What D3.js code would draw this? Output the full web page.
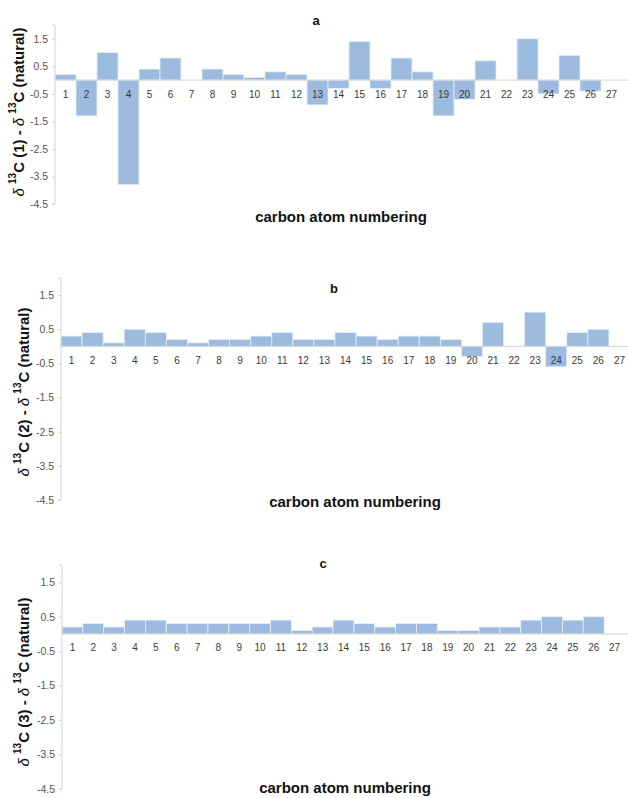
<!DOCTYPE html>
<html>
<head>
<meta charset="utf-8">
<script src="https://cdn.jsdelivr.net/npm/d3@7"></script>
<style>
  html, body { margin: 0; padding: 0; background: #fff; }
  svg { display: block; font-family: "Liberation Sans", Arial, sans-serif; }
</style>
</head>
<body>
<svg id="chart" width="628" height="798"></svg>
<script>
// ---- data ----
const carbons = ["1","2","3","4","5","6","7","8","9","10","11","12","13","14","15","16","17","18","19","20","21","22","23","24","25","26","27"];
const seriesA = [0.2,-1.3,1.0,-3.8,0.4,0.8,0,0.4,0.2,0.1,0.3,0.2,-0.9,-0.3,1.4,-0.3,0.8,0.3,-1.3,-0.7,0.7,0,1.5,-0.5,0.9,-0.4,0];
const seriesB = [0.3,0.4,0.1,0.5,0.4,0.2,0.1,0.2,0.2,0.3,0.4,0.2,0.2,0.4,0.3,0.2,0.3,0.3,0.2,-0.3,0.7,0,1.0,-0.6,0.4,0.5,0];
const seriesC = [0.2,0.3,0.2,0.4,0.4,0.3,0.3,0.3,0.3,0.3,0.4,0.1,0.2,0.4,0.3,0.2,0.3,0.3,0.1,0.1,0.2,0.2,0.4,0.5,0.4,0.5,0];
const yTicks = [1.5, 0.5, -0.5, -1.5, -2.5, -3.5, -4.5];
const panelNames = ["a", "b", "c"];
const sampleLabels = ["1", "2", "3"];
const xTitle = "carbon atom numbering";

// ---- layout ----
const layouts = [
  {left: 55, right: 622, top: 25, bottom: 204, tx: 316, ty: 20, ytx: 18, yty: 112, xtx: 341, xty: 216},
  {left: 61, right: 630, top: 278, bottom: 500, tx: 334, ty: 288, ytx: 23, yty: 392, xtx: 355, xty: 501},
  {left: 62, right: 625, top: 565, bottom: 789, tx: 323, ty: 563, ytx: 23, yty: 682, xtx: 345, xty: 787}
];
const allSeries = [seriesA, seriesB, seriesC];

const svg = d3.select("#chart");
const barFill = "#9dbbdf";
const axisColor = "#d3d3d3";

allSeries.forEach((vals, i) => {
  const L = layouts[i];
  const g = svg.append("g");
  const x = d3.scaleBand().domain(carbons).range([L.left, L.right]).padding(0);
  const y = d3.scaleLinear().domain([-4.5, 2.0]).range([L.bottom, L.top]);
  const data = carbons.map((c, k) => ({c, v: vals[k]}));

  // bars
  g.selectAll("rect.bar").data(data.filter(d => d.v !== 0)).join("rect")
    .attr("class", "bar")
    .attr("x", d => x(d.c))
    .attr("width", x.bandwidth())
    .attr("y", d => y(Math.max(0, d.v)))
    .attr("height", d => Math.abs(y(d.v) - y(0)))
    .attr("fill", barFill)
    .attr("stroke", "#e6edf6")
    .attr("stroke-width", 0.8);

  // zero line
  g.append("line")
    .attr("x1", L.left).attr("x2", 628)
    .attr("y1", y(0)).attr("y2", y(0))
    .attr("stroke", axisColor).attr("stroke-width", 1);

  // y axis
  const yAxis = d3.axisLeft(y).tickValues(yTicks).tickSize(3).tickPadding(4)
    .tickFormat(d3.format(".1f"));
  const ya = g.append("g").attr("transform", `translate(${L.left},0)`).call(yAxis);
  ya.select(".domain").attr("stroke", axisColor).attr("d", `M-3,${L.top}H0V${L.bottom}H-3`);
  ya.selectAll(".tick line").attr("stroke", axisColor);
  ya.selectAll(".tick text").attr("fill", "#555").style("font-size", "10.5px")
    .text(d => d3.format(".1f")(d).replace("\u2212", "-"));

  // x category labels
  g.selectAll("text.xl").data(carbons).join("text")
    .attr("class", "xl")
    .attr("x", d => x(d) + x.bandwidth() / 2)
    .attr("y", y(0) + 14)
    .attr("text-anchor", "middle")
    .attr("dominant-baseline", "central")
    .attr("fill", "#3a3a3a")
    .style("font-size", "10px")
    .text(d => d);

  // panel title
  g.append("text")
    .attr("x", L.tx).attr("y", L.ty)
    .attr("text-anchor", "middle").attr("dominant-baseline", "central")
    .style("font-size", "13px").style("font-weight", "bold").attr("fill", "#111")
    .text(panelNames[i]);

  // x title
  g.append("text")
    .attr("x", L.xtx).attr("y", L.xty)
    .attr("text-anchor", "middle").attr("dominant-baseline", "central")
    .style("font-size", "15px").style("font-weight", "bold").attr("fill", "#111")
    .text(xTitle);

  // y title
  const yt = g.append("text")
    .attr("transform", `translate(${L.ytx},${L.yty}) rotate(-90)`)
    .attr("text-anchor", "middle").attr("dominant-baseline", "central")
    .style("font-size", "15px").style("font-weight", "bold").attr("fill", "#111");
  yt.append("tspan").style("font-style", "italic").style("font-weight", "normal").text("δ ");
  yt.append("tspan").attr("baseline-shift", "super").style("font-size", "10px").text("13");
  yt.append("tspan").text(`C (${sampleLabels[i]}) - `);
  yt.append("tspan").style("font-style", "italic").style("font-weight", "normal").text("δ ");
  yt.append("tspan").attr("baseline-shift", "super").style("font-size", "10px").text("13");
  yt.append("tspan").text("C (natural)");
});
</script>
</body>
</html>
